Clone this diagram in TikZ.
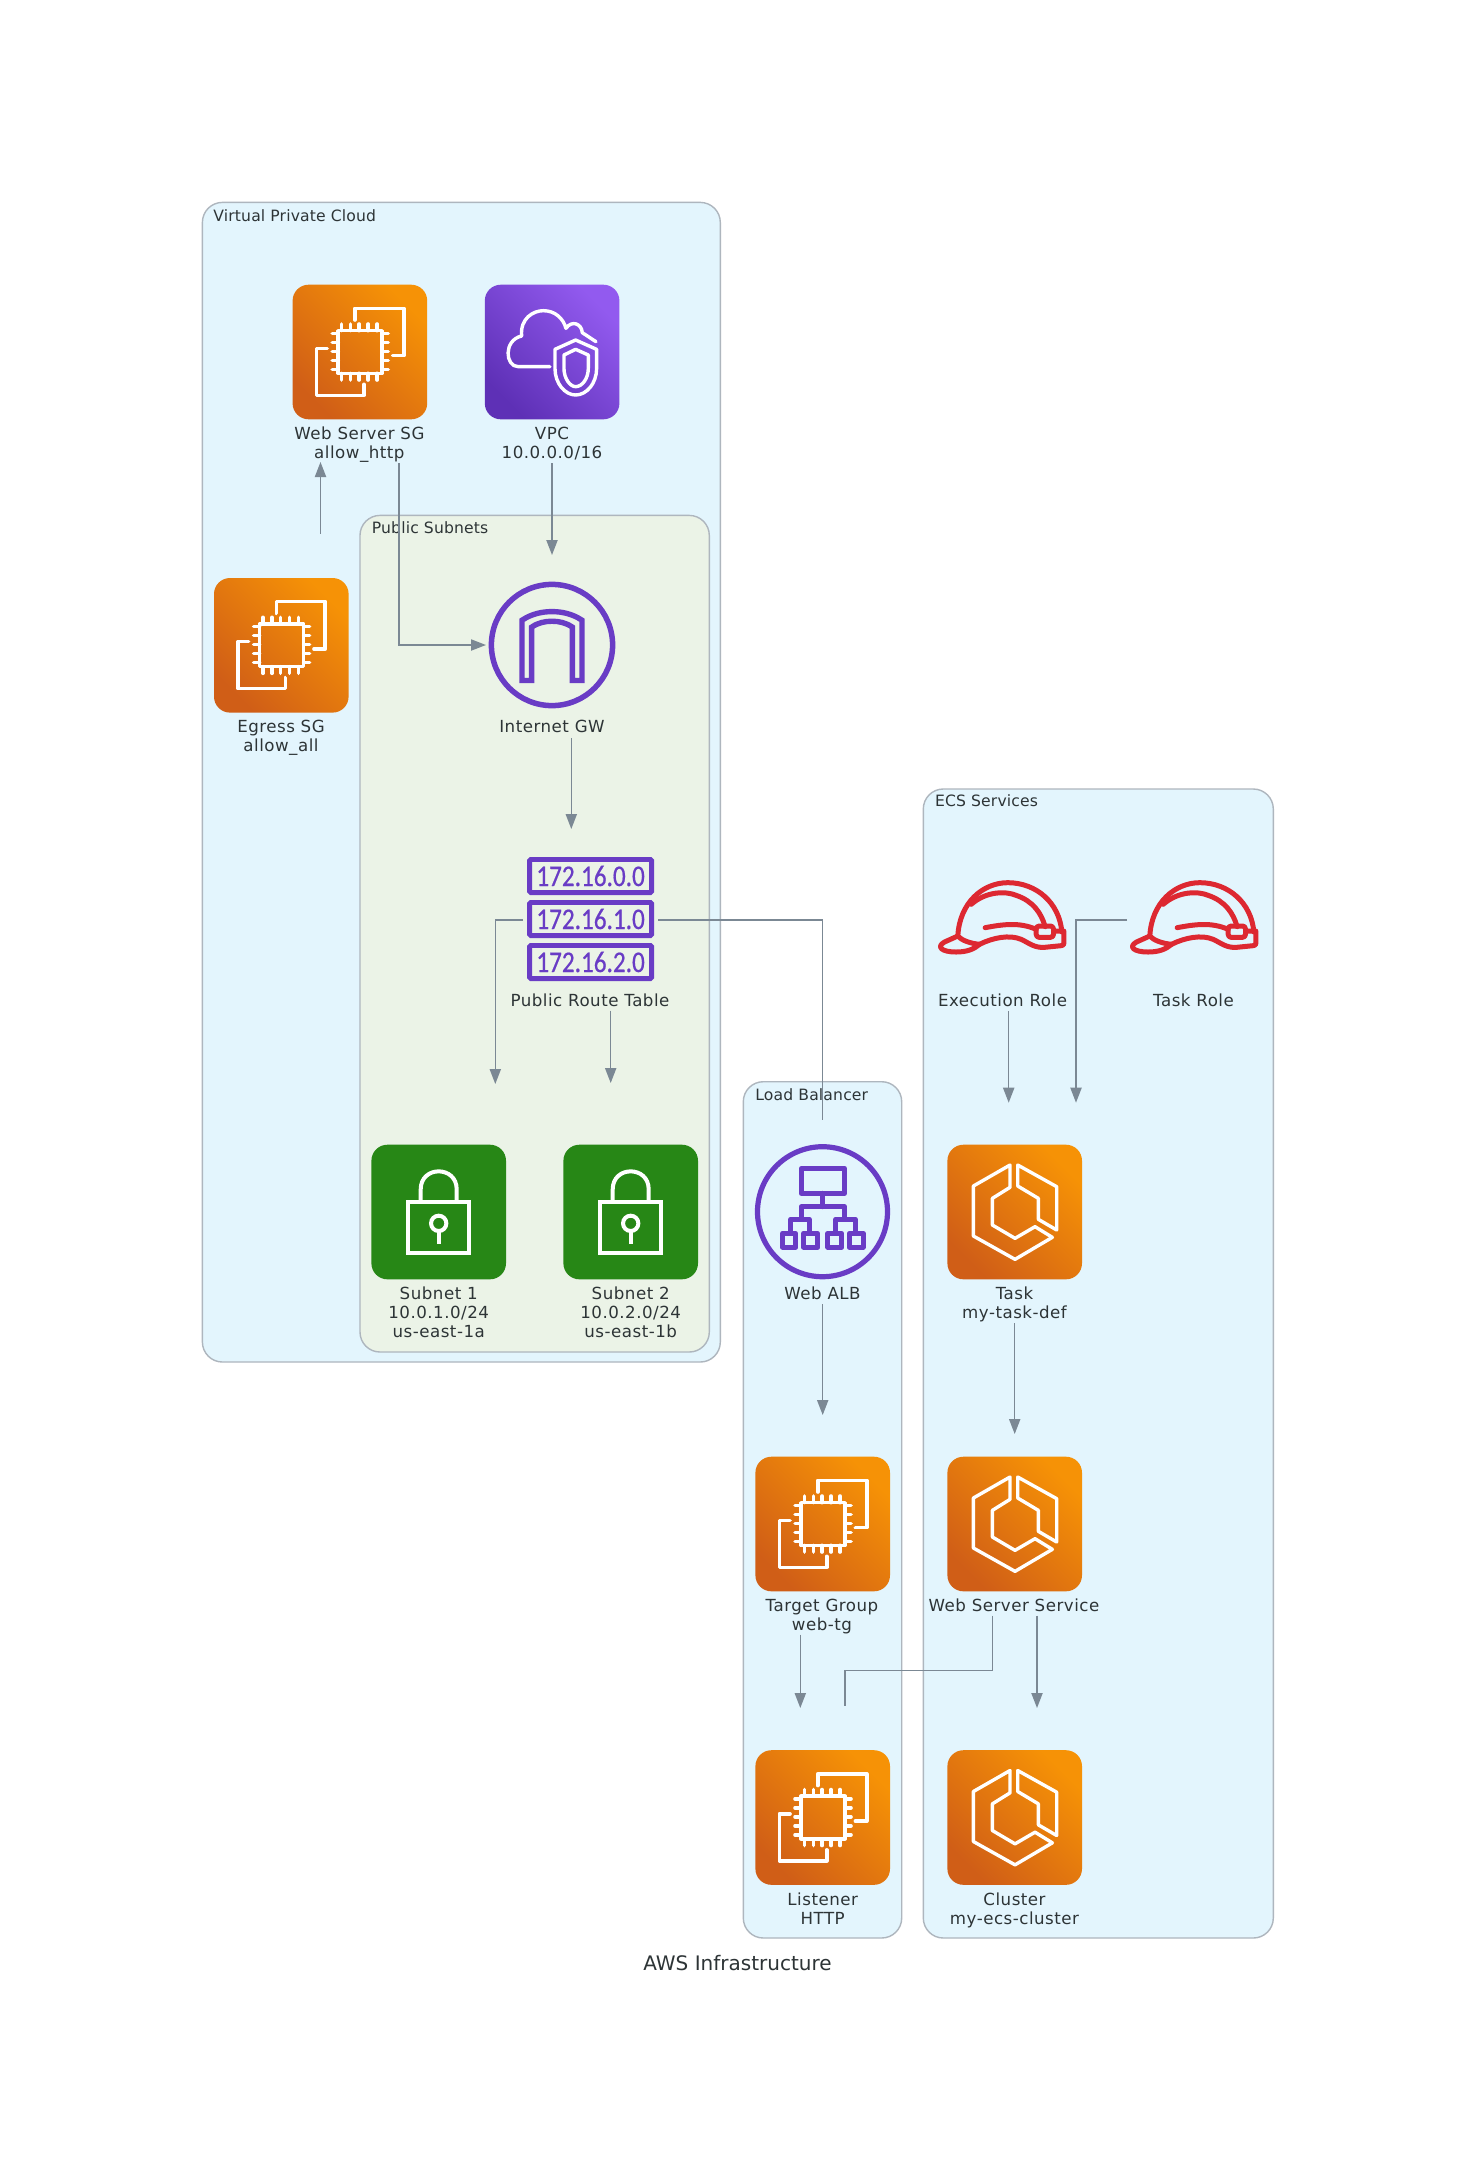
\documentclass[tikz,border=0pt]{standalone}
\usepackage{fontspec}
\setmainfont{DejaVu Sans}
\newfontfamily\labfont[LetterSpace=3]{DejaVu Sans}
\newfontfamily\clabfont[LetterSpace=1]{DejaVu Sans}
\newfontfamily\rtfont[FakeStretch=0.84,FakeBold=0.6]{Carlito}
\usetikzlibrary{arrows.meta,fit}
\definecolor{txt}{HTML}{2D3436}
\definecolor{edgec}{HTML}{7B8894}
\definecolor{clusterline}{HTML}{AEB6BE}
\definecolor{blueBG}{HTML}{E3F5FD}
\definecolor{greenBG}{HTML}{EBF3E7}
\definecolor{awsOrangeA}{HTML}{D05E17}
\definecolor{awsOrangeB}{HTML}{F69206}
\definecolor{awsPurpleA}{HTML}{5E30B6}
\definecolor{awsPurpleB}{HTML}{925AEF}
\definecolor{awsGreen}{HTML}{278716}
\definecolor{awsPur}{HTML}{693CC5}
\definecolor{awsRed}{HTML}{DD2831}
\newcommand{\ls}{\rule{0pt}{7pt}}
\tikzset{
  x=0.5pt,y=-0.5pt,
  cluster/.style={draw=clusterline,line width=0.7pt,rounded corners=10pt,inner sep=0pt},
  clab/.style={anchor=base west,inner sep=0pt,text=txt,font=\clabfont\fontsize{7.8}{9}\selectfont},
  lab/.style={anchor=north,inner sep=0pt,align=center,text=txt,font=\labfont\fontsize{8.33}{9.5}\selectfont},
  edge/.style={draw=edgec,line width=0.7pt,-{Triangle[length=7.5pt,width=5.6pt]}},
  plainedge/.style={draw=edgec,line width=0.7pt},
  iconbox/.style={minimum size=67.3pt,inner sep=0pt,rounded corners=8pt},
  orangebox/.style={iconbox,bottom color=awsOrangeA,top color=awsOrangeB,shading angle=-45},
  purplebox/.style={iconbox,bottom color=awsPurpleA,top color=awsPurpleB,shading angle=-45},
  greenbox/.style={iconbox,fill=awsGreen},
  ring/.style={circle,draw=awsPur,inner sep=0pt},
  rtrow/.style={draw=awsPur,line width=2.4pt,minimum width=61pt,minimum height=16.6pt,inner sep=0pt,rounded corners=0.6pt,text=awsPur,font=\rtfont\fontsize{15}{15}\selectfont},
  wl/.style={draw=white,line cap=round,line join=round},
  pl/.style={draw=awsPur,line width=2.5pt,line join=round,line cap=round},
  rl/.style={draw=awsRed,line width=2.5pt,line join=round,line cap=round},
  ectwo/.pic={
    \begin{scope}[scale=0.3333,shift={(-180,-186)}]
      \draw[wl,line width=1.8pt] (165,90)--(165,55)--(312,55)--(312,197)--(278,197);
      \draw[wl,line width=1.8pt] (82,175)--(50,175)--(50,316)--(192,316)--(192,283);
      \draw[wl,line width=1.8pt] (115,122) rectangle (247,250);
      \foreach \p in {125,152,178,205,232}{
        \draw[wl,line width=1.8pt] (\p,122)--(\p,102);
        \draw[wl,line width=1.8pt] (\p,250)--(\p,270);
      }
      \foreach \p in {130,157,184,211,238}{
        \draw[wl,line width=1.8pt] (115,\p)--(97,\p);
        \draw[wl,line width=1.8pt] (247,\p)--(265,\p);
      }
    \end{scope}
  },
  ecsicon/.pic={
    \begin{scope}[scale=0.3333,shift={(-179,-186)}]
      \draw[wl,line width=1.7pt] (165,45)--(55,108)--(55,258)--(180,328)--(292,262)--(240,230)--(180,265)--(112,225)--(112,145)--(165,112)--cycle;
      \draw[wl,line width=1.7pt] (188,45)--(305,110)--(305,240)--(250,208)--(250,145)--(188,108)--cycle;
    \end{scope}
  },
  vpcicon/.pic={
    \begin{scope}[scale=0.3333,shift={(-186.4,-186)}]
      \draw[wl,line width=1.7pt] (180,230)--(85,230) .. controls (45,230) and (40,150) .. (95,138)
        .. controls (90,85) and (130,62) .. (160,62) .. controls (195,62) and (220,85) .. (228,115)
        .. controls (245,90) and (275,100) .. (277,128) -- (318,155);
      \draw[wl,line width=1.7pt] (257,150)--(195,178)--(195,235) .. controls (195,280) and (225,315) .. (257,315)
        .. controls (290,315) and (320,280) .. (320,235)--(320,178)--cycle;
      \draw[wl,line width=1.7pt] (257,178)--(222,195)--(222,235) .. controls (222,265) and (240,290) .. (257,290)
        .. controls (277,290) and (295,265) .. (295,235)--(295,195)--cycle;
    \end{scope}
  },
  lockicon/.pic={
    \begin{scope}[scale=0.3333,shift={(-236,-246)}]
      \draw[draw=white,line width=2pt] (145,215) rectangle (327,368);
      \draw[draw=white,line width=2pt] (182,215)--(182,178) .. controls (182,106) and (290,106) .. (290,178)--(290,215);
      \draw[draw=white,line width=2pt] (236,280) circle[radius=23];
      \draw[draw=white,line width=2pt] (236,303)--(236,343);
    \end{scope}
  },
  archicon/.pic={
    \begin{scope}[scale=0.3444]
      \draw[pl,line width=2.7pt,line join=miter] (-87,103)--(-87,-72) .. controls (-60,-90) and (-30,-97) .. (0,-97)
        .. controls (30,-97) and (60,-90) .. (87,-72)--(87,103)--(59,103)--(59,-52)
        .. controls (40,-65) and (20,-69) .. (0,-69) .. controls (-20,-69) and (-40,-65) .. (-59,-52)--(-59,103)--cycle;
    \end{scope}
  },
  albicon/.pic={
    \begin{scope}[scale=0.3333,shift={(-232,-230)}]
      \draw[pl] (168,100) rectangle (298,175);
      \draw[pl] (232,175)--(232,215);
      \draw[pl] (168,252)--(168,215)--(298,215)--(298,252);
      \draw[pl] (137,295)--(137,252)--(192,252)--(192,295);
      \draw[pl] (272,295)--(272,252)--(330,252)--(330,295);
      \draw[pl] (112,295) rectangle (152,336);
      \draw[pl] (175,295) rectangle (218,336);
      \draw[pl] (248,295) rectangle (290,336);
      \draw[pl] (312,295) rectangle (354,336);
    \end{scope}
  },
  helmet/.pic={
    \begin{scope}[scale=0.3333,shift={(-216,-143)}]
      \draw[rl] (85,200) .. controls (90,100) and (160,40) .. (235,40) .. controls (320,40) and (390,100) .. (397,188);
      \draw[rl] (125,105) .. controls (170,65) and (230,65) .. (260,78) .. controls (310,95) and (335,130) .. (347,172);
      \draw[rl] (85,200)--(45,218) .. controls (20,232) and (35,248) .. (80,248)
        .. controls (115,248) and (135,238) .. (150,225) .. controls (120,222) and (95,212) .. (85,200);
      \draw[rl] (150,225) .. controls (190,205) and (240,195) .. (275,210) .. controls (300,222) and (315,236) .. (345,234)
        -- (395,229) .. controls (402,228) and (403,226) .. (403,222) -- (403,185) -- (372,185);
      \draw[rl] (167,175) .. controls (220,165) and (270,158) .. (320,180);
      \draw[rl,rounded corners=1.5pt] (320,170) rectangle (372,204);
    \end{scope}
  },
}
\begin{document}
\begin{tikzpicture}
\path[use as bounding box,fill=white] (0,0) rectangle (1476,2175);

% clusters
\node[cluster,fill=blueBG,fit={(202.4,202.4) (720.3,1362)}] (vpcC) {};
\node[cluster,fill=greenBG,fit={(360,515.4) (709.3,1352)}] (pubC) {};
\node[cluster,fill=blueBG,fit={(743.3,1081.7) (901.7,1938)}] (lbC) {};
\node[cluster,fill=blueBG,fit={(923.3,789) (1273.3,1938)}] (ecsC) {};
\node[clab] (vpcT) at (213,221) {Virtual Private Cloud};
\node[clab] (pubT) at (371.5,533) {Public Subnets};
\node[clab] (lbT) at (755,1100) {Load Balancer};
\node[clab] (ecsT) at (934.7,806.7) {ECS Services};

% icons
\node[orangebox] (websg) at (359.9,352) {};
\pic at (websg.center) {ectwo};
\node[lab] (websgL) at (359.4,425) {\ls Web Server SG\\allow\_http};

\node[purplebox] (vpc) at (552.1,352) {};
\pic at (vpc.center) {vpcicon};
\node[lab] (vpcL) at (552,425) {\ls VPC\\10.0.0.0/16};

\node[orangebox] (egress) at (281.3,645.3) {};
\pic at (egress.center) {ectwo};
\node[lab] (egressL) at (281,718) {\ls Egress SG\\allow\_all};

\node[ring,line width=2.75pt,minimum size=60.6pt] (igw) at (552,645) {};
\pic at (igw.center) {archicon};
\node[lab] (igwL) at (552,718) {\ls Internet GW};

\node[rtrow] (rta) at (590.6,876) {172.16.0.0};
\node[rtrow] (rtb) at (590.6,919) {172.16.1.0};
\node[rtrow] (rtc) at (590.6,962) {172.16.2.0};
\node[lab] (rtL) at (590,992) {\ls Public Route Table};

\node[greenbox] (sub1) at (438.7,1212) {};
\pic at (sub1.center) {lockicon};
\node[lab] (sub1L) at (438.7,1285) {\ls Subnet 1\\10.0.1.0/24\\us-east-1a};
\node[greenbox] (sub2) at (630.7,1212) {};
\pic at (sub2.center) {lockicon};
\node[lab] (sub2L) at (630.7,1285) {\ls Subnet 2\\10.0.2.0/24\\us-east-1b};

\node[ring,line width=2.6pt,minimum size=65pt] (alb) at (822.5,1211.7) {};
\pic at (alb.center) {albicon};
\node[lab] (albL) at (822.5,1285) {\ls Web ALB};

\node[orangebox] (tg) at (822.7,1524) {};
\pic at (tg.center) {ectwo};
\node[lab] (tgL) at (822,1597) {\ls Target Group\\web-tg};

\node[orangebox] (lis) at (822.7,1817.5) {};
\pic at (lis.center) {ectwo};
\node[lab] (lisL) at (822.7,1891) {\ls Listener\\HTTP};

\pic at (1001.5,917) {helmet};
\coordinate (execIcon) at (1001.5,917);
\node[lab] (execL) at (1002.5,992) {\ls Execution Role};
\pic at (1193.5,917) {helmet};
\coordinate (taskRoleIcon) at (1193.5,917);
\node[lab] (taskRoleL) at (1193.5,992) {\ls Task Role};

\node[orangebox] (task) at (1014.7,1212) {};
\pic at (task.center) {ecsicon};
\node[lab] (taskL) at (1014.5,1285) {\ls Task\\my-task-def};

\node[orangebox] (svc) at (1014.7,1524) {};
\pic at (svc.center) {ecsicon};
\node[lab] (svcL) at (1014,1597) {\ls Web Server Service};

\node[orangebox] (clu) at (1014.7,1817.5) {};
\pic at (clu.center) {ecsicon};
\node[lab] (cluL) at (1014.5,1891) {\ls Cluster\\my-ecs-cluster};

\node[anchor=base,inner sep=0pt,text=txt,font=\fontsize{10}{12}\selectfont] (title) at (737.5,1970.7) {AWS Infrastructure};

% connector ends
\coordinate (egressOut) at (320.5,533.7);
\coordinate (websgIn) at (320.5,462);
\coordinate (websgOut) at (399,463);
\coordinate (wsCorner) at (399,645);
\coordinate (igwInL) at (486,645);
\coordinate (vpcOut) at (552,463);
\coordinate (igwInT) at (552,555);
\coordinate (igwOut) at (571.3,738);
\coordinate (rtIn) at (571.3,829);
\coordinate (rtOutL) at (522.7,920);
\coordinate (rtCornerL) at (495.3,920);
\coordinate (sub1In) at (495.3,1084);
\coordinate (rtOutB) at (610.7,1010.7);
\coordinate (sub2In) at (610.7,1083);
\coordinate (rtOutR) at (658.3,920);
\coordinate (rtCornerR) at (822.7,920);
\coordinate (albIn) at (822.7,1120);
\coordinate (albOut) at (822.7,1304);
\coordinate (tgIn) at (822.7,1415);
\coordinate (tgOut) at (800.3,1634.6);
\coordinate (lisInL) at (800.3,1708);
\coordinate (svcOutL) at (992.3,1615.7);
\coordinate (svcCornerA) at (992.3,1670.7);
\coordinate (svcCornerB) at (845,1670.7);
\coordinate (lisInR) at (845,1706);
\coordinate (svcOutR) at (1037,1615.7);
\coordinate (cluIn) at (1037,1708);
\coordinate (taskOut) at (1014.7,1323);
\coordinate (svcIn) at (1014.7,1434);
\coordinate (execOut) at (1008.7,1011);
\coordinate (taskInL) at (1008.7,1102.7);
\coordinate (troleOut) at (1127,920);
\coordinate (troleCorner) at (1076,920);
\coordinate (taskInR) at (1076,1102.7);

% connectors
\draw[edge] (egressOut) -- (websgIn);
\draw[edge] (websgOut) -- (wsCorner) -- (igwInL);
\draw[edge] (vpcOut) -- (igwInT);
\draw[edge] (igwOut) -- (rtIn);
\draw[edge] (rtOutL) -- (rtCornerL) -- (sub1In);
\draw[edge] (rtOutB) -- (sub2In);
\draw[plainedge] (rtOutR) -- (rtCornerR) -- (albIn);
\draw[edge] (albOut) -- (tgIn);
\draw[edge] (tgOut) -- (lisInL);
\draw[plainedge] (svcOutL) -- (svcCornerA) -- (svcCornerB) -- (lisInR);
\draw[edge] (svcOutR) -- (cluIn);
\draw[edge] (taskOut) -- (svcIn);
\draw[edge] (execOut) -- (taskInL);
\draw[edge] (troleOut) -- (troleCorner) -- (taskInR);
\end{tikzpicture}
\end{document}
